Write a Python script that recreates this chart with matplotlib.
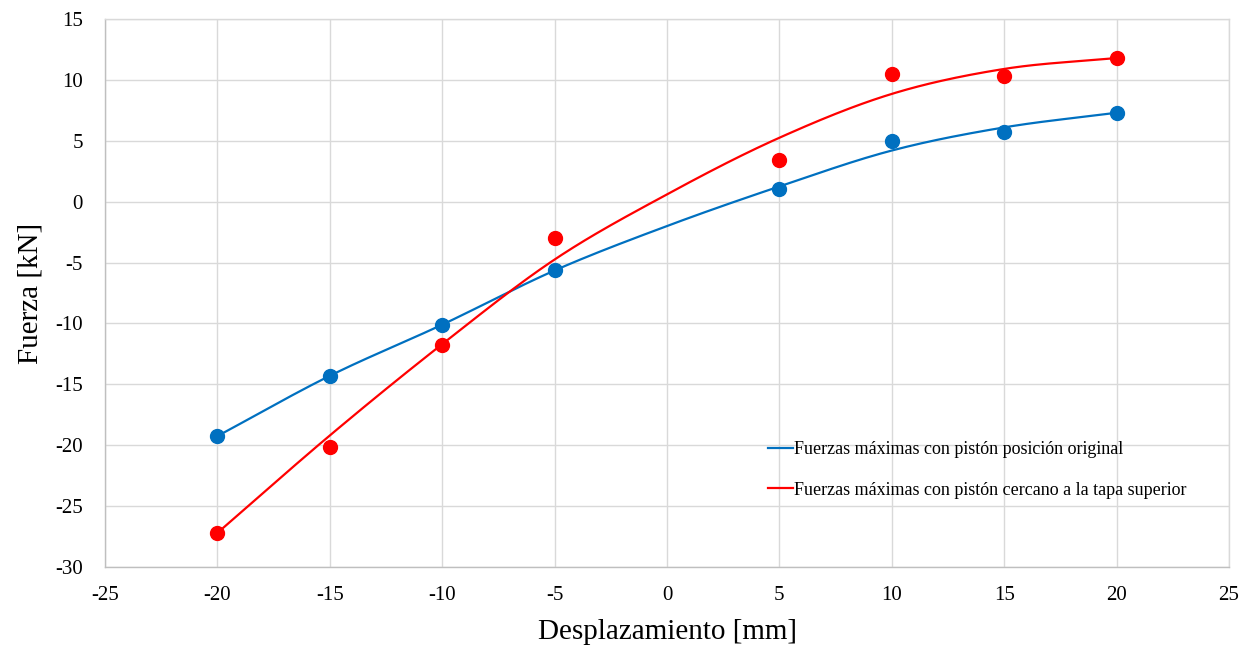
import numpy as np
import matplotlib
matplotlib.use("Agg")
import matplotlib.pyplot as plt

# Data
x_pts = [-20, -15, -10, -5, 5, 10, 15, 20]
blue_pts = [-19.25, -14.3, -10.1, -5.65, 1.05, 5.0, 5.7, 7.3]
red_pts = [-27.2, -20.15, -11.8, -3.0, 3.45, 10.5, 10.3, 11.8]

x_line = [-20, -15, -10, -5, 0, 5, 10, 15, 20]
blue_line = [-19.25, -14.3, -10.1, -5.65, -2.0, 1.25, 4.2, 6.1, 7.3]
red_line = [-27.2, -19.2, -11.7, -4.75, 0.6, 5.25, 8.85, 10.9, 11.8]

labels = ["Fuerzas máximas con pistón posición original",
          "Fuerzas máximas con pistón cercano a la tapa superior"]
xticks = [-25, -20, -15, -10, -5, 0, 5, 10, 15, 20, 25]
yticks = [-30, -25, -20, -15, -10, -5, 0, 5, 10, 15]

BLUE = "#0070C0"
RED = "#FF0000"


def smooth(xs, ys, n=30):
    """Catmull-Rom rendering of a smoothed line (like a spreadsheet's smoothed line)."""
    xs = np.asarray(xs, float)
    ys = np.asarray(ys, float)
    P = np.column_stack([xs, ys])
    P = np.vstack([2 * P[0] - P[1], P, 2 * P[-1] - P[-2]])
    out = []
    t = np.linspace(0, 1, n, endpoint=False)[:, None]
    for i in range(1, len(P) - 2):
        p0, p1, p2, p3 = P[i - 1], P[i], P[i + 1], P[i + 2]
        seg = 0.5 * ((2 * p1) + (-p0 + p2) * t + (2 * p0 - 5 * p1 + 4 * p2 - p3) * t ** 2
                     + (-p0 + 3 * p1 - 3 * p2 + p3) * t ** 3)
        out.append(seg)
    out.append(P[-2][None, :])
    out = np.vstack(out)
    return out[:, 0], out[:, 1]


plt.rcParams['font.family'] = ['Liberation Serif', 'DejaVu Serif']
plt.rcParams['axes.unicode_minus'] = False

fig = plt.figure(figsize=(12.5, 6.48), dpi=100)
ax = fig.add_axes([105 / 1250, 1 - 567 / 648, (1229 - 105) / 1250, (567 - 19) / 648])

bx, by = smooth(x_line, blue_line)
rx, ry = smooth(x_line, red_line)
ax.plot(bx, by, color=BLUE, lw=1.6, label=labels[0], zorder=3)
ax.plot(rx, ry, color=RED, lw=1.6, label=labels[1], zorder=3)
ax.plot(x_pts, blue_pts, 'o', color=BLUE, ms=10, zorder=4)
ax.plot(x_pts, red_pts, 'o', color=RED, ms=10, zorder=4)

ax.set_xlim(-25, 25)
ax.set_ylim(-30, 15)
ax.set_xticks(xticks)
ax.set_yticks(yticks)
ax.grid(True, color="#D9D9D9", lw=1.0, zorder=0)
ax.set_axisbelow(True)
for s in ["top", "right"]:
    ax.spines[s].set_color("#D9D9D9")
for s in ["left", "bottom"]:
    ax.spines[s].set_color("#BFBFBF")
for s in ax.spines.values():
    s.set_linewidth(1.0)
ax.tick_params(axis='both', length=0, labelsize=15, colors="#000000")
ax.tick_params(axis='y', pad=16)
ax.tick_params(axis='x', pad=14)

ax.set_xlabel("Desplazamiento [mm]", fontsize=21, labelpad=10)
ax.set_ylabel("Fuerza [kN]", fontsize=21, labelpad=8)

leg = ax.legend(loc='upper left', bbox_to_anchor=(0.5835, 0.243), frameon=False,
                fontsize=13, handlelength=1.4, handletextpad=0.05, labelspacing=1.3,
                borderaxespad=0)

fig.savefig("out.png", dpi=100)
